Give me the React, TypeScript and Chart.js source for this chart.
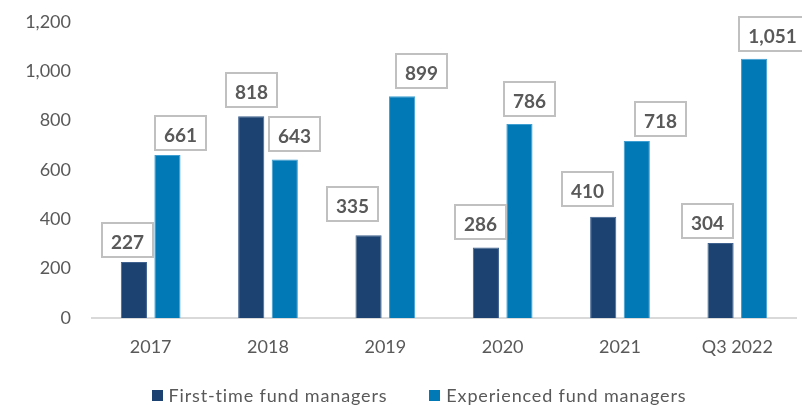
import React, { useEffect, useRef } from 'react';
import { Chart, registerables } from 'chart.js';

Chart.register(...registerables);

const categories = ['2017', '2018', '2019', '2020', '2021', 'Q3 2022'];
const firstTime = [227, 818, 335, 286, 410, 304];
const experienced = [661, 643, 899, 786, 718, 1051];
const yMin = 0;
const yMax = 1200;
const yStep = 200;

// nudges of the boxed value labels, as placed in the source
const firstTimeLabelShift = [-6, 0, -16, -5, -16, -13];
const experiencedLabelShift = [13, 10, 19, 10, 24, 18];
const firstTimeLabelLift = [5, 9, 14, 8, 11, 5];
const experiencedLabelLift = [5, 8, 8, 8, 5, 8];

const FONT = 'Lato';
const GREY = '#595959';

const boxLabels = {
  id: 'boxLabels',
  afterDatasetsDraw(chart: any) {
    const ctx = chart.ctx;
    chart.data.datasets.forEach((ds: any, di: number) => {
      const meta = chart.getDatasetMeta(di);
      meta.data.forEach((bar: any, i: number) => {
        const v = ds.data[i] as number;
        const text = v.toLocaleString('en-US');
        ctx.save();
        ctx.font = `bold 19px ${FONT}`;
        const tw = ctx.measureText(text).width;
        const w = Math.round(tw + 18);
        const h = 34;
        const cx = bar.x + ds.labelShift[i];
        const bottom = bar.y - ds.labelLift[i];
        const left = Math.round(cx - w / 2);
        const top = Math.round(bottom - h);
        ctx.fillStyle = '#ffffff';
        ctx.fillRect(left, top, w, h);
        ctx.strokeStyle = '#c0c0c0';
        ctx.lineWidth = 2;
        ctx.strokeRect(left, top, w, h);
        ctx.fillStyle = GREY;
        ctx.textAlign = 'center';
        ctx.textBaseline = 'alphabetic';
        ctx.fillText(text, left + w / 2, top + h / 2 + 9);
        ctx.restore();
      });
    });
  },
};

// single-row legend under the axis, like the source's
const legendRow = {
  id: 'legendRow',
  afterDraw(chart: any) {
    const ctx = chart.ctx;
    ctx.save();
    ctx.font = `18px ${FONT}`;
    (ctx as any).letterSpacing = '0.85px';
    const box = 11;
    const textGap = 6;
    const itemGap = 42;
    const items = chart.data.datasets.map((ds: any) => ({
      text: ds.label as string,
      color: ds.backgroundColor as string,
      w: box + textGap + ctx.measureText(ds.label).width,
    }));
    const total =
      items.reduce((s: number, it: any) => s + it.w, 0) + itemGap * (items.length - 1);
    let x = chart.width / 2 + 18 - total / 2;
    const cy = chart.height - 10;
    items.forEach((it: any) => {
      ctx.fillStyle = it.color;
      ctx.fillRect(Math.round(x), Math.round(cy - box / 2), box, box);
      ctx.fillStyle = GREY;
      ctx.textAlign = 'left';
      ctx.textBaseline = 'alphabetic';
      ctx.fillText(it.text, x + box + textGap, cy + 6.5);
      x += it.w + itemGap;
    });
    ctx.restore();
  },
};

export default function App() {
  const ref = useRef<HTMLCanvasElement | null>(null);

  useEffect(() => {
    document.body.style.margin = '0';
    let chart: Chart | null = null;
    let cancelled = false;

    const build = () => {
      if (cancelled || !ref.current) return;
      chart = new Chart(ref.current, {
        type: 'bar',
        data: {
          labels: categories,
          datasets: [
            {
              label: 'First-time fund managers',
              data: firstTime,
              backgroundColor: '#1B4270',
              borderColor: '#3f6290',
              borderWidth: 1,
              categoryPercentage: 0.572,
              barPercentage: 0.78,
              labelShift: firstTimeLabelShift,
              labelLift: firstTimeLabelLift,
            } as any,
            {
              label: 'Experienced fund managers',
              data: experienced,
              backgroundColor: '#0079B6',
              borderColor: '#3f9fd2',
              borderWidth: 1,
              categoryPercentage: 0.572,
              barPercentage: 0.78,
              labelShift: experiencedLabelShift,
              labelLift: experiencedLabelLift,
            } as any,
          ],
        },
        options: {
          responsive: false,
          animation: false,
          layout: { padding: { top: 22, right: 6, left: 0, bottom: 47 } },
          plugins: {
            tooltip: { enabled: false },
            legend: { display: false },
          },
          scales: {
            x: {
              grid: { display: false, drawTicks: false },
              border: { color: '#d9d9d9', width: 2 },
              ticks: {
                color: GREY,
                font: { family: FONT, size: 18 },
                padding: 18,
              },
              afterFit: (s: any) => {
                s.height = 40;
              },
            },
            y: {
              min: yMin,
              max: yMax,
              grid: { display: false, drawTicks: false },
              border: { display: false },
              ticks: {
                stepSize: yStep,
                color: GREY,
                font: { family: FONT, size: 18 },
                padding: 21,
                callback: (v: any) => Number(v).toLocaleString('en-US'),
              },
              afterFit: (s: any) => {
                s.width = 92;
                s.paddingTop = 11;
                s.paddingBottom = 11;
              },
            },
          },
        },
        plugins: [boxLabels, legendRow],
      });
    };

    const fontsReady = (document as any).fonts
      ? Promise.all([
          (document as any).fonts.load(`18px ${FONT}`),
          (document as any).fonts.load(`bold 19px ${FONT}`),
        ]).catch(() => null)
      : Promise.resolve();
    fontsReady.then(build);

    return () => {
      cancelled = true;
      if (chart) chart.destroy();
    };
  }, []);

  return (
    <div style={{ width: 802, height: 405 }}>
      <canvas ref={ref} width={802} height={405} style={{ display: 'block' }} />
    </div>
  );
}
